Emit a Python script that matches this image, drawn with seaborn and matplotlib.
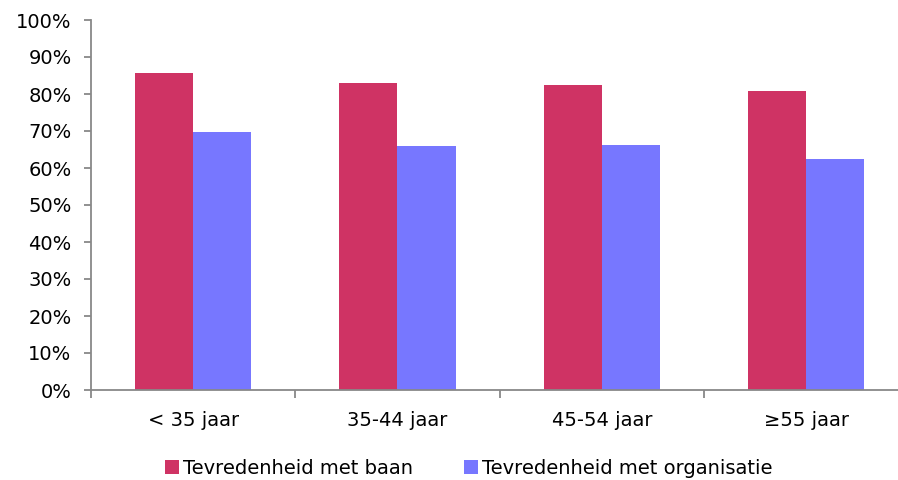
import matplotlib
matplotlib.use("Agg")
import matplotlib.pyplot as plt
import seaborn as sns
import pandas as pd
from matplotlib.ticker import FixedLocator, PercentFormatter
from matplotlib.patches import Patch

categories = ["< 35 jaar", "35-44 jaar", "45-54 jaar", "\u226555 jaar"]
baan = [85.7, 83.1, 82.4, 80.8]
organisatie = [69.6, 65.9, 66.3, 62.4]
series_names = ["Tevredenheid met baan", "Tevredenheid met organisatie"]
colors = ["#CF3364", "#7777FF"]

df = pd.DataFrame({
    "cat": categories * 2,
    "val": baan + organisatie,
    "serie": [series_names[0]] * 4 + [series_names[1]] * 4,
})

sns.set_theme(style="white")
plt.rcParams["font.family"] = ["DejaVu Sans"]

fig = plt.figure(figsize=(8.98, 4.80), dpi=100)
ax = fig.add_axes([91 / 898, 1 - 390 / 480, (898 - 91) / 898, 370 / 480])

sns.barplot(data=df, x="cat", y="val", hue="serie", palette=colors,
            width=0.57, ax=ax, legend=False, saturation=1, edgecolor="none")

ax.set_ylim(0, 100)
ax.set_xlim(-0.5, 3.45)
ax.yaxis.set_major_locator(FixedLocator(range(0, 101, 10)))
ax.yaxis.set_major_formatter(PercentFormatter(decimals=0))
ax.set_xlabel("")
ax.set_ylabel("")

for s in ["top", "right"]:
    ax.spines[s].set_visible(False)
for s in ["left", "bottom"]:
    ax.spines[s].set_color("#888888")
    ax.spines[s].set_linewidth(1.3)

ax.tick_params(axis="y", which="major", left=True, length=5, width=1.3, color="#888888",
               labelsize=14, pad=9, labelcolor="black")
ax.set_xticks(range(4))
ax.set_xticklabels(categories)
ax.tick_params(axis="x", which="major", bottom=True, length=0, labelsize=14, pad=15, labelcolor="black")
ax.set_xticks([-0.5, 0.5, 1.5, 2.5], minor=True)
ax.tick_params(axis="x", which="minor", bottom=True, length=6, width=1.3, color="#888888")

handles = [Patch(facecolor=c, edgecolor="none") for c in colors]
fig.legend(handles, series_names, loc="center", bbox_to_anchor=(0.522, 1 - 468 / 480),
           ncol=2, frameon=False, fontsize=14, handlelength=0.75, handleheight=0.7,
           handletextpad=0.2, columnspacing=2.6, labelcolor="black")

fig.savefig("out.png", dpi=100)
